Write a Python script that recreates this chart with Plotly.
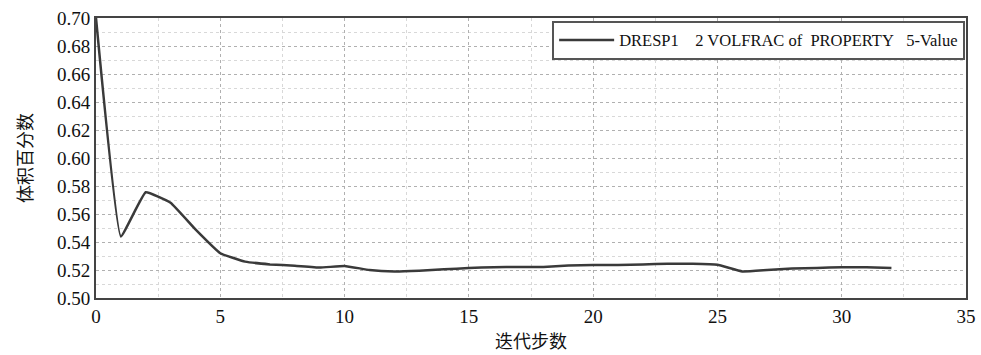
import plotly.graph_objects as go

iterations = list(range(0, 33))
volume_fraction = [0.700, 0.544, 0.5755, 0.568, 0.549, 0.532, 0.526, 0.524, 0.523, 0.5217,
                   0.5229, 0.520, 0.519, 0.5195, 0.5205, 0.5214, 0.522, 0.5222, 0.5222, 0.5232,
                   0.5236, 0.5236, 0.524, 0.5245, 0.5245, 0.5238, 0.519, 0.520, 0.521, 0.5215,
                   0.522, 0.522, 0.5215]
x_ticks = [0, 5, 10, 15, 20, 25, 30, 35]
y_ticks = [0.50, 0.52, 0.54, 0.56, 0.58, 0.60, 0.62, 0.64, 0.66, 0.68, 0.70]
legend_name = "DRESP1\u00a0\u00a0\u00a0\u00a02 VOLFRAC of\u00a0\u00a0PROPERTY\u00a0\u00a0\u00a05-Value"

fig = go.Figure()
fig.add_trace(go.Scatter(
    x=iterations, y=volume_fraction, mode="lines", name=legend_name,
    line=dict(color="#3a3a3a", width=2.5, shape="spline", smoothing=0.3),
    showlegend=True,
))

serif = "Liberation Serif"
cjk = "Noto Sans CJK SC"

fig.update_layout(
    width=981, height=355,
    margin=dict(l=96, r=15, t=18, b=57, autoexpand=False),
    plot_bgcolor="white", paper_bgcolor="white",
    showlegend=True,
    legend=dict(
        x=0.999, y=0.99, xanchor="right", yanchor="top",
        bgcolor="white", bordercolor="#555", borderwidth=2,
        font=dict(family=serif, size=16.5, color="#111"),
        itemwidth=55,
    ),
    xaxis=dict(
        range=[0, 35], tickvals=x_ticks, ticktext=[str(v) for v in x_ticks],
        automargin=False,
        showline=True, linecolor="#444", linewidth=2, mirror=True,
        showgrid=True, gridcolor="#b0b0b0", griddash="dot", gridwidth=1,
        minor=dict(dtick=2.5, showgrid=True, gridcolor="#d8d8d8", griddash="dot", gridwidth=1),
        ticks="", zeroline=False,
        tickfont=dict(family=serif, size=19, color="#111"),
        title=dict(text="迭代步数", font=dict(family=cjk, size=18, color="#111"), standoff=10),
    ),
    yaxis=dict(
        range=[0.50, 0.70], tickvals=y_ticks, ticktext=[f"{v:.2f}" for v in y_ticks],
        automargin=False,
        showline=True, linecolor="#444", linewidth=2, mirror=True,
        showgrid=True, gridcolor="#b0b0b0", griddash="dot", gridwidth=1,
        minor=dict(dtick=0.01, showgrid=True, gridcolor="#d8d8d8", griddash="dot", gridwidth=1),
        ticks="", zeroline=False,
        tickfont=dict(family=serif, size=19, color="#111"),
        title=dict(text="体积百分数", font=dict(family=cjk, size=18, color="#111"), standoff=20),
    ),
)

fig.write_html("out.html", config={"displayModeBar": False},
               post_script="document.body.style.margin='0';")
